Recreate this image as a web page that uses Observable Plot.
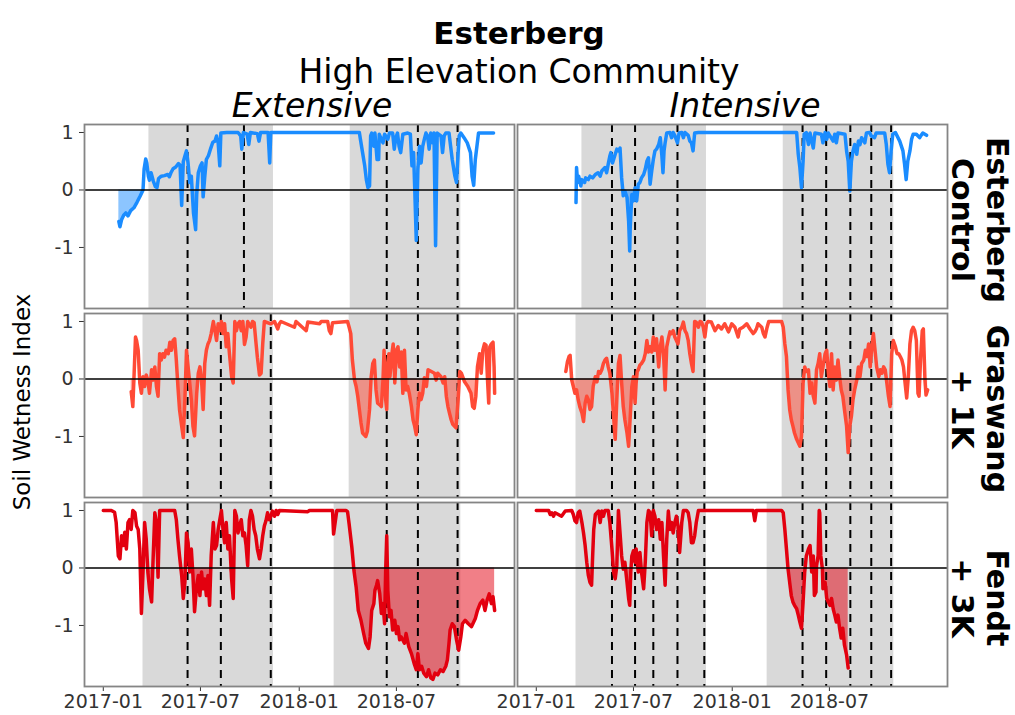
<!DOCTYPE html>
<html><head><meta charset="utf-8">
<script src="https://cdn.jsdelivr.net/npm/d3@7"></script>
<script src="https://cdn.jsdelivr.net/npm/@observablehq/plot@0.6"></script>
<style>
body{margin:0;background:#fff;}
#chart{position:relative;width:1015px;height:715px;overflow:hidden;}
#chart svg{font-family:"DejaVu Sans",sans-serif;}
</style></head><body><div id="chart"></div>
<script>
const titleText = "Esterberg";
const subtitleText = "High Elevation Community";
const yLabel = "Soil Wetness Index";
const sites = ["Esterberg", "Graswang", "Fendt"];
const siteLabels = [["Esterberg", "Control"], ["Graswang", "+ 1K"], ["Fendt", "+ 3K"]];
const managements = ["Extensive", "Intensive"];
const siteColors = ["#1A8CFF", "#FF4A36", "#E3000F"];
const xTicks = ["2017-01-01", "2017-07-01", "2018-01-01", "2018-07-01"];
const yTicks = [-1, 0, 1];

// growing-season shading (same for both management columns)
const seasonSites = ["Esterberg", "Esterberg", "Graswang", "Graswang", "Fendt", "Fendt"];
const seasonStarts = ["2017-03-27", "2018-04-06", "2017-03-16", "2018-04-04", "2017-03-16", "2018-03-07"];
const seasonEnds = ["2017-11-14", "2018-10-29", "2017-11-14", "2018-10-29", "2017-11-14", "2018-10-29"];

// management events (dashed lines)
const extEventsControl = ["2017-06-07", "2017-09-20", "2018-06-13", "2018-08-10", "2018-10-23"];
const extEventsWarmed = ["2017-06-07", "2017-08-08", "2017-11-09", "2018-06-13", "2018-08-10", "2018-10-23"];
const intEventsControl = ["2017-05-22", "2017-07-04", "2017-09-21", "2018-05-12", "2018-06-25", "2018-08-09", "2018-09-17", "2018-10-24"];
const intEventsWarmed = ["2017-05-22", "2017-07-04", "2017-08-07", "2017-09-21", "2017-11-10", "2018-05-12", "2018-06-25", "2018-08-09", "2018-09-17", "2018-10-24"];

// Esterberg – Extensive
const esterbergExtDates = ["2017-01-30","2017-02-01","2017-02-04","2017-02-08","2017-02-12","2017-02-16","2017-02-21","2017-02-27","2017-03-05","2017-03-11","2017-03-16","2017-03-18","2017-03-21","2017-03-23","2017-03-26","2017-03-28","2017-03-31","2017-04-04","2017-04-08","2017-04-11","2017-04-14","2017-04-19","2017-04-25","2017-05-01","2017-05-04","2017-05-07","2017-05-11","2017-05-16","2017-05-21","2017-05-24","2017-05-27","2017-05-30","2017-06-03","2017-06-05","2017-06-08","2017-06-11","2017-06-14","2017-06-18","2017-06-22","2017-06-24","2017-06-27","2017-07-01","2017-07-04","2017-07-06","2017-07-09","2017-07-12","2017-07-16","2017-07-20","2017-07-24","2017-07-28","2017-07-31","2017-08-03","2017-08-06","2017-08-08","2017-08-19","2017-09-09","2017-09-14","2017-09-16","2017-09-19","2017-09-26","2017-09-29","2017-10-02","2017-10-15","2017-10-18","2017-10-21","2017-11-04","2017-11-07","2017-11-09","2018-04-23","2018-04-25","2018-04-29","2018-05-03","2018-05-06","2018-05-09","2018-05-12","2018-05-14","2018-05-16","2018-05-20","2018-05-22","2018-05-26","2018-05-29","2018-05-30","2018-06-06","2018-06-09","2018-06-15","2018-06-18","2018-06-24","2018-06-27","2018-06-30","2018-07-03","2018-07-06","2018-07-09","2018-07-13","2018-07-22","2018-07-27","2018-07-30","2018-08-02","2018-08-04","2018-08-07","2018-08-10","2018-08-13","2018-08-16","2018-08-19","2018-08-22","2018-08-25","2018-08-28","2018-08-31","2018-09-03","2018-09-06","2018-09-09","2018-09-12","2018-09-15","2018-09-22","2018-09-25","2018-09-28","2018-10-01","2018-10-07","2018-10-13","2018-10-18","2018-10-21","2018-10-24","2018-10-26","2018-10-29","2018-11-04","2018-11-10","2018-11-16","2018-11-19","2018-11-22","2018-11-25","2018-11-28","2018-12-01","2018-12-29"];
const esterbergExtValues = [-0.55,-0.64,-0.52,-0.44,-0.40,-0.45,-0.36,-0.31,-0.21,-0.10,0.0,0.36,0.54,0.47,0.24,0.17,0.30,0.16,0.06,0.04,0.20,0.24,0.25,0.27,0.23,0.30,0.37,0.40,0.46,0.43,-0.27,0.49,0.62,0.68,0.46,0.13,0.24,-0.40,-0.69,-0.08,0.30,0.42,0.47,-0.12,0.23,0.53,0.60,0.72,0.83,0.85,0.94,0.82,0.42,0.99,1.0,1.0,0.94,0.71,1.0,0.97,0.79,1.0,0.98,0.85,1.0,1.0,0.47,1.0,1.0,0.88,0.65,0.42,0.18,0.04,0.07,0.94,0.99,0.76,0.99,0.53,0.53,0.97,0.82,0.97,0.88,0.99,0.99,0.71,0.91,0.99,0.76,0.65,0.97,0.99,0.97,0.42,0.65,0.07,-0.88,0.36,0.76,0.47,0.76,0.88,0.99,0.94,0.71,0.99,0.82,0.99,-0.97,0.99,0.94,0.65,0.94,0.99,0.99,0.53,0.24,0.13,0.65,0.94,0.99,0.91,0.82,0.65,0.24,0.08,0.53,0.76,0.99,0.99];

// Esterberg – Intensive
const esterbergIntDates = ["2017-03-16","2017-03-17","2017-03-19","2017-03-21","2017-03-25","2017-03-27","2017-04-01","2017-04-03","2017-04-08","2017-04-11","2017-04-16","2017-04-21","2017-04-26","2017-04-30","2017-05-03","2017-05-09","2017-05-12","2017-05-15","2017-05-18","2017-05-20","2017-05-23","2017-05-25","2017-05-28","2017-05-31","2017-06-03","2017-06-06","2017-06-09","2017-06-12","2017-06-15","2017-06-19","2017-06-22","2017-06-24","2017-06-25","2017-06-28","2017-07-01","2017-07-04","2017-07-07","2017-07-10","2017-07-13","2017-07-16","2017-07-20","2017-07-23","2017-07-26","2017-07-29","2017-08-01","2017-08-04","2017-08-07","2017-08-10","2017-08-13","2017-08-17","2017-08-20","2017-08-23","2017-08-25","2017-08-27","2017-08-29","2017-09-01","2017-09-07","2017-09-10","2017-09-13","2017-09-16","2017-09-21","2017-09-24","2017-09-29","2017-10-02","2017-10-05","2017-10-11","2017-10-14","2017-10-17","2017-10-20","2017-10-23","2017-10-30","2018-05-01","2018-05-04","2018-05-07","2018-05-10","2018-05-13","2018-05-15","2018-05-19","2018-05-23","2018-05-26","2018-06-01","2018-06-04","2018-06-16","2018-06-19","2018-06-23","2018-06-26","2018-06-29","2018-07-08","2018-07-11","2018-07-14","2018-07-17","2018-07-30","2018-08-02","2018-08-05","2018-08-08","2018-08-11","2018-08-14","2018-08-17","2018-08-21","2018-08-24","2018-08-27","2018-08-30","2018-09-05","2018-09-08","2018-09-14","2018-09-17","2018-09-23","2018-09-26","2018-10-12","2018-10-15","2018-10-18","2018-10-21","2018-10-24","2018-10-27","2018-11-01","2018-11-09","2018-11-15","2018-11-18","2018-11-21","2018-11-24","2018-11-28","2018-12-01","2018-12-04","2018-12-10","2018-12-16","2018-12-19","2018-12-22","2018-12-29"];
const esterbergIntValues = [-0.22,0.39,0.13,0.24,0.07,0.18,0.13,0.21,0.18,0.24,0.21,0.27,0.30,0.24,0.33,0.39,0.30,0.45,0.59,0.65,0.47,0.53,0.62,0.71,0.68,0.73,0.21,-0.10,-0.02,-0.13,-0.54,-1.06,-0.65,-0.08,-0.19,0.04,-0.19,0.10,0.13,0.21,0.27,0.36,0.50,0.56,0.10,0.33,0.53,0.68,0.71,0.79,0.91,0.59,0.30,0.68,0.82,0.99,1.0,0.91,1.0,0.95,0.82,0.99,1.0,0.91,1.0,0.95,0.85,0.82,0.68,0.99,1.0,1.0,0.62,0.39,0.04,0.50,0.97,1.0,0.79,0.99,0.73,0.99,0.97,0.82,1.0,0.88,0.99,0.85,0.97,0.82,0.99,0.97,0.68,0.50,-0.02,0.50,0.68,0.79,0.62,0.85,0.79,0.91,0.82,0.99,1.0,0.94,0.91,0.99,0.99,0.79,0.45,0.30,0.68,0.97,1.0,0.85,0.68,0.45,0.18,0.50,0.68,0.88,0.97,0.97,0.91,0.95,0.99,0.95];

// Graswang – Extensive
const graswangExtDates = ["2017-02-22","2017-02-25","2017-02-27","2017-03-02","2017-03-04","2017-03-07","2017-03-10","2017-03-13","2017-03-16","2017-03-19","2017-03-22","2017-03-25","2017-03-28","2017-04-01","2017-04-04","2017-04-07","2017-04-10","2017-04-13","2017-04-16","2017-04-19","2017-04-22","2017-04-25","2017-04-28","2017-05-02","2017-05-05","2017-05-08","2017-05-11","2017-05-14","2017-05-17","2017-05-20","2017-05-23","2017-05-27","2017-05-30","2017-06-02","2017-06-05","2017-06-08","2017-06-11","2017-06-14","2017-06-17","2017-06-20","2017-06-24","2017-06-27","2017-06-30","2017-07-03","2017-07-06","2017-07-09","2017-07-12","2017-07-15","2017-07-18","2017-07-21","2017-07-25","2017-07-28","2017-07-31","2017-08-03","2017-08-06","2017-08-09","2017-08-12","2017-08-15","2017-08-18","2017-08-21","2017-08-24","2017-08-28","2017-08-31","2017-09-03","2017-09-06","2017-09-09","2017-09-12","2017-09-15","2017-09-18","2017-09-21","2017-09-24","2017-09-27","2017-10-03","2017-10-06","2017-10-09","2017-10-12","2017-10-15","2017-10-19","2017-10-22","2017-10-25","2017-10-28","2017-11-09","2017-11-16","2017-11-22","2017-11-25","2017-11-28","2017-12-23","2017-12-26","2018-01-14","2018-01-17","2018-02-08","2018-02-11","2018-02-23","2018-02-26","2018-03-01","2018-03-04","2018-04-01","2018-04-04","2018-04-07","2018-04-10","2018-04-14","2018-04-17","2018-04-20","2018-04-23","2018-04-26","2018-04-29","2018-05-05","2018-05-08","2018-05-12","2018-05-15","2018-05-18","2018-05-21","2018-05-24","2018-05-27","2018-05-31","2018-06-03","2018-06-06","2018-06-08","2018-06-11","2018-06-13","2018-06-15","2018-06-17","2018-06-19","2018-06-22","2018-06-25","2018-06-28","2018-07-01","2018-07-04","2018-07-07","2018-07-10","2018-07-13","2018-07-16","2018-07-19","2018-07-22","2018-07-25","2018-07-29","2018-08-01","2018-08-04","2018-08-07","2018-08-10","2018-08-13","2018-08-16","2018-08-19","2018-08-22","2018-08-26","2018-08-29","2018-09-04","2018-09-10","2018-09-13","2018-09-16","2018-09-22","2018-09-26","2018-09-29","2018-10-02","2018-10-05","2018-10-08","2018-10-11","2018-10-14","2018-10-20","2018-10-24","2018-10-27","2018-10-30","2018-11-05","2018-11-11","2018-11-17","2018-11-20","2018-11-23","2018-11-26","2018-11-29","2018-12-03","2018-12-06","2018-12-09","2018-12-12","2018-12-15","2018-12-18","2018-12-20","2018-12-22","2018-12-25","2018-12-28","2018-12-30","2018-12-31"];
const graswangExtValues = [-0.22,-0.48,-0.02,0.73,0.67,0.50,-0.07,-0.25,0.04,-0.13,0.07,-0.02,-0.25,0.16,-0.02,0.21,-0.13,-0.30,0.44,0.33,0.44,0.38,0.50,0.44,0.64,0.50,0.67,0.70,0.33,-0.13,-0.53,-0.82,-1.02,-0.36,0.50,0.21,-0.07,-0.36,-0.82,-0.99,-0.25,0.10,0.21,-0.02,-0.53,0.27,0.50,0.61,0.67,0.79,1.0,0.84,0.67,0.96,0.84,1.0,0.79,0.96,0.56,0.79,0.44,0.04,-0.07,1.0,0.84,0.96,1.0,0.84,1.0,0.60,0.73,1.0,0.90,1.0,0.98,0.67,0.38,0.07,0.10,0.61,1.0,0.96,1.0,0.87,0.96,1.0,0.90,1.0,0.84,0.99,0.96,1.0,1.0,0.84,0.79,0.98,1.0,0.90,0.79,0.33,-0.02,-0.13,-0.30,-0.53,-0.76,-0.94,-1.0,-0.91,-0.53,0.04,0.27,0.33,-0.19,-0.42,-0.45,-0.48,-0.02,0.50,-0.36,-0.53,0.27,0.44,0.04,0.39,0.61,-0.07,0.50,0.56,0.21,0.47,-0.25,0.50,-0.19,-0.13,-0.25,-0.48,-0.71,-0.82,-0.97,-0.53,-0.25,-0.36,-0.25,0.02,-0.13,0.16,0.13,0.10,-0.02,0.10,0.04,-0.07,0.04,-0.30,-0.48,-0.60,-0.71,-0.79,-0.85,-0.36,0.13,0.10,-0.05,-0.13,-0.25,-0.48,-0.51,-0.30,0.21,0.44,0.10,0.50,0.61,0.59,-0.07,-0.42,0.56,0.61,0.64,0.21,-0.25];

// Graswang – Intensive
const graswangIntDates = ["2017-02-25","2017-02-28","2017-03-03","2017-03-05","2017-03-08","2017-03-11","2017-03-14","2017-03-17","2017-03-20","2017-03-23","2017-03-27","2017-03-30","2017-04-02","2017-04-05","2017-04-08","2017-04-11","2017-04-14","2017-04-17","2017-04-21","2017-04-24","2017-04-27","2017-04-30","2017-05-03","2017-05-06","2017-05-09","2017-05-12","2017-05-15","2017-05-18","2017-05-22","2017-05-25","2017-05-28","2017-05-31","2017-06-03","2017-06-06","2017-06-09","2017-06-12","2017-06-15","2017-06-19","2017-06-22","2017-06-25","2017-06-28","2017-07-01","2017-07-04","2017-07-06","2017-07-08","2017-07-10","2017-07-13","2017-07-16","2017-07-20","2017-07-23","2017-07-26","2017-07-29","2017-08-01","2017-08-04","2017-08-07","2017-08-10","2017-08-13","2017-08-17","2017-08-20","2017-08-23","2017-08-26","2017-08-29","2017-09-01","2017-09-04","2017-09-07","2017-09-10","2017-09-13","2017-09-16","2017-09-19","2017-09-22","2017-09-25","2017-09-29","2017-10-02","2017-10-05","2017-10-08","2017-10-11","2017-10-14","2017-10-17","2017-10-20","2017-10-23","2017-10-26","2017-10-30","2017-11-02","2017-11-05","2017-11-08","2017-11-11","2017-11-14","2017-11-17","2017-11-23","2017-11-30","2017-12-06","2017-12-12","2017-12-18","2017-12-25","2017-12-31","2018-01-06","2018-01-12","2018-01-15","2018-01-21","2018-01-28","2018-02-03","2018-02-09","2018-02-12","2018-02-15","2018-02-18","2018-02-25","2018-02-28","2018-03-03","2018-03-07","2018-03-10","2018-04-03","2018-04-06","2018-04-09","2018-04-12","2018-04-15","2018-04-18","2018-04-21","2018-04-24","2018-04-27","2018-05-01","2018-05-04","2018-05-07","2018-05-10","2018-05-13","2018-05-16","2018-05-19","2018-05-23","2018-05-26","2018-05-29","2018-06-01","2018-06-04","2018-06-07","2018-06-10","2018-06-13","2018-06-16","2018-06-19","2018-06-23","2018-06-26","2018-06-29","2018-07-02","2018-07-05","2018-07-08","2018-07-11","2018-07-14","2018-07-17","2018-07-20","2018-07-23","2018-07-26","2018-07-29","2018-08-02","2018-08-05","2018-08-08","2018-08-11","2018-08-14","2018-08-17","2018-08-21","2018-08-24","2018-08-27","2018-08-30","2018-09-03","2018-09-06","2018-09-09","2018-09-12","2018-09-15","2018-09-18","2018-09-21","2018-09-24","2018-09-27","2018-10-01","2018-10-04","2018-10-07","2018-10-10","2018-10-13","2018-10-16","2018-10-19","2018-10-22","2018-10-25","2018-10-28","2018-11-01","2018-11-04","2018-11-07","2018-11-10","2018-11-13","2018-11-16","2018-11-19","2018-11-22","2018-11-25","2018-11-28","2018-12-01","2018-12-04","2018-12-07","2018-12-10","2018-12-13","2018-12-15","2018-12-18","2018-12-21","2018-12-23","2018-12-26","2018-12-28","2018-12-31"];
const graswangIntValues = [0.13,0.30,0.39,0.41,-0.02,-0.13,-0.25,-0.19,-0.36,-0.48,-0.59,-0.74,-0.42,-0.30,-0.36,-0.53,-0.48,-0.13,0.04,-0.05,0.13,0.10,0.16,0.27,0.33,0.36,0.21,0.10,-0.25,-0.65,-1.05,-0.36,0.27,0.41,-0.07,-0.48,-0.71,-0.94,-1.17,-0.65,-0.13,0.04,-0.42,-0.07,0.13,0.16,0.24,0.27,0.33,0.44,0.67,0.47,0.56,0.47,0.73,0.50,0.70,0.21,0.56,0.73,0.44,-0.19,0.56,0.70,0.82,0.79,0.84,0.73,0.67,0.61,0.84,0.90,0.99,0.84,0.79,0.67,0.44,0.27,0.13,1.0,0.99,0.90,1.0,0.99,0.90,0.73,0.96,1.0,0.99,0.84,0.93,0.87,0.96,0.82,0.96,0.90,0.73,0.87,0.90,0.96,0.87,0.79,0.82,0.87,0.96,0.90,0.79,0.73,0.90,1.0,1.0,0.90,0.61,0.39,-0.19,-0.53,-0.71,-0.82,-0.94,-1.05,-1.11,-1.17,-1.0,-0.07,0.21,0.13,0.16,-0.25,-0.07,-0.30,-0.42,0.16,0.27,0.44,0.04,0.21,0.44,0.50,0.10,-0.13,0.44,-0.19,0.21,-0.02,0.33,0.04,-0.19,-0.30,-0.53,-0.82,-1.28,-0.82,-0.65,-0.36,-0.19,-0.02,0.21,0.04,0.27,0.33,0.50,0.39,0.61,0.21,0.56,0.79,0.50,0.21,0.04,0.16,0.10,0.21,0.16,-0.07,-0.30,-0.48,0.44,0.67,0.56,0.44,0.44,0.39,0.33,0.21,-0.07,-0.33,0.04,0.61,0.84,0.90,0.84,0.67,-0.25,-0.30,0.39,0.84,0.87,-0.02,-0.28,-0.19];

// Fendt – Extensive
const fendtExtDates = ["2017-01-01","2017-01-16","2017-01-22","2017-01-25","2017-01-29","2017-02-01","2017-02-04","2017-02-07","2017-02-10","2017-02-13","2017-02-16","2017-02-19","2017-02-22","2017-02-25","2017-03-01","2017-03-04","2017-03-07","2017-03-10","2017-03-13","2017-03-16","2017-03-19","2017-03-22","2017-03-25","2017-03-28","2017-04-01","2017-04-04","2017-04-07","2017-04-10","2017-04-13","2017-04-16","2017-05-14","2017-05-17","2017-05-20","2017-05-23","2017-05-27","2017-05-30","2017-06-02","2017-06-05","2017-06-08","2017-06-11","2017-06-14","2017-06-17","2017-06-20","2017-06-24","2017-06-27","2017-06-30","2017-07-03","2017-07-06","2017-07-09","2017-07-12","2017-07-15","2017-07-18","2017-07-21","2017-07-25","2017-07-28","2017-07-31","2017-08-03","2017-08-06","2017-08-09","2017-08-12","2017-08-15","2017-08-18","2017-08-21","2017-08-24","2017-08-28","2017-08-31","2017-09-03","2017-09-06","2017-09-09","2017-09-12","2017-09-15","2017-09-18","2017-09-21","2017-09-24","2017-09-27","2017-09-30","2017-10-03","2017-10-06","2017-10-09","2017-10-12","2017-10-15","2017-10-19","2017-10-22","2017-10-25","2017-10-28","2017-10-31","2017-11-03","2017-11-06","2017-11-09","2017-11-12","2017-11-16","2017-11-19","2017-11-22","2017-11-25","2018-01-17","2018-01-20","2018-03-04","2018-03-06","2018-03-08","2018-03-12","2018-03-29","2018-04-01","2018-04-04","2018-04-09","2018-04-13","2018-04-17","2018-04-21","2018-04-26","2018-05-01","2018-05-05","2018-05-10","2018-05-13","2018-05-16","2018-05-20","2018-05-22","2018-05-25","2018-05-27","2018-05-31","2018-06-03","2018-06-06","2018-06-09","2018-06-11","2018-06-13","2018-06-15","2018-06-18","2018-06-21","2018-06-24","2018-06-28","2018-07-01","2018-07-04","2018-07-07","2018-07-10","2018-07-16","2018-07-19","2018-07-24","2018-07-29","2018-08-03","2018-08-07","2018-08-10","2018-08-13","2018-08-17","2018-08-21","2018-08-26","2018-08-30","2018-09-03","2018-09-07","2018-09-11","2018-09-16","2018-09-21","2018-09-26","2018-10-01","2018-10-04","2018-10-07","2018-10-09","2018-10-13","2018-10-17","2018-10-21","2018-10-25","2018-10-29","2018-11-01","2018-11-06","2018-11-12","2018-11-18","2018-11-25","2018-11-29","2018-12-04","2018-12-09","2018-12-13","2018-12-17","2018-12-21","2018-12-25","2018-12-28","2018-12-31"];
const fendtExtValues = [1.0,1.0,0.97,0.79,0.21,0.16,0.56,0.39,0.62,0.33,0.79,0.84,0.67,1.0,0.96,0.73,0.67,0.33,-0.79,-0.07,0.79,0.50,-0.07,-0.36,-0.59,0.21,0.96,0.79,-0.16,1.0,1.0,0.84,0.50,0.21,-0.13,-0.53,-0.25,0.61,0.44,-0.07,0.33,-0.13,-0.76,-0.30,-0.13,-0.48,-0.07,-0.36,-0.19,-0.48,-0.13,-0.65,0.21,0.79,0.33,0.39,0.67,0.84,1.0,0.67,0.44,0.79,0.33,0.56,-0.19,-0.53,1.0,0.90,0.61,0.73,0.84,0.56,0.61,0.39,0.04,0.84,1.0,0.90,0.67,0.56,0.33,0.16,0.33,0.56,0.73,0.82,0.96,0.84,0.90,0.99,0.90,1.0,0.93,1.0,0.98,1.0,1.0,0.59,0.73,1.0,1.0,0.98,0.76,0.36,-0.05,-0.33,-0.74,-0.91,-1.14,-1.31,-1.40,-1.20,-0.74,-0.62,-0.39,-0.30,-0.22,-0.45,-0.79,-0.62,-0.97,-0.05,0.56,-0.39,-0.85,-0.74,-1.08,-0.91,-1.14,-1.02,-1.25,-1.20,-1.31,-1.14,-1.37,-1.49,-1.66,-1.77,-1.49,-1.77,-1.71,-1.83,-1.89,-1.77,-1.91,-1.94,-1.83,-1.86,-1.77,-1.80,-1.71,-1.60,-1.31,-1.08,-0.97,-1.02,-1.25,-1.43,-1.20,-0.97,-0.91,-0.97,-1.02,-0.88,-0.74,-0.62,-0.56,-0.74,-0.56,-0.45,-0.62,-0.50,-0.74];

// Fendt – Intensive
const fendtIntDates = ["2017-01-01","2017-01-24","2017-01-27","2017-01-30","2017-02-02","2017-02-05","2017-02-11","2017-02-17","2017-02-24","2017-03-08","2017-03-11","2017-03-14","2017-03-17","2017-03-20","2017-03-23","2017-03-27","2017-03-30","2017-04-02","2017-04-05","2017-04-08","2017-04-11","2017-04-14","2017-04-16","2017-04-18","2017-04-21","2017-04-27","2017-04-30","2017-05-03","2017-05-06","2017-05-09","2017-05-15","2017-05-18","2017-05-22","2017-05-25","2017-05-28","2017-05-31","2017-06-03","2017-06-06","2017-06-09","2017-06-12","2017-06-15","2017-06-19","2017-06-22","2017-06-24","2017-06-26","2017-06-28","2017-07-01","2017-07-04","2017-07-06","2017-07-08","2017-07-10","2017-07-13","2017-07-16","2017-07-20","2017-07-23","2017-07-26","2017-07-29","2017-08-01","2017-08-04","2017-08-07","2017-08-10","2017-08-13","2017-08-17","2017-08-20","2017-08-23","2017-08-26","2017-08-29","2017-09-01","2017-09-04","2017-09-07","2017-09-10","2017-09-13","2017-09-16","2017-09-19","2017-09-22","2017-09-25","2017-09-29","2017-10-02","2017-10-08","2017-10-11","2017-10-14","2017-10-17","2017-10-20","2017-10-23","2017-10-26","2017-10-30","2018-02-09","2018-02-12","2018-02-15","2018-04-03","2018-04-06","2018-04-09","2018-04-12","2018-04-15","2018-04-18","2018-04-21","2018-04-24","2018-04-27","2018-05-01","2018-05-04","2018-05-07","2018-05-10","2018-05-13","2018-05-16","2018-05-19","2018-05-23","2018-05-26","2018-05-29","2018-06-01","2018-06-03","2018-06-06","2018-06-07","2018-06-10","2018-06-12","2018-06-13","2018-06-15","2018-06-18","2018-06-19","2018-06-23","2018-06-26","2018-06-29","2018-07-02","2018-07-05","2018-07-08","2018-07-11","2018-07-14","2018-07-17","2018-07-20","2018-07-23","2018-07-26","2018-07-29","2018-08-02","2018-08-05"];
const fendtIntValues = [1.0,1.0,0.93,0.96,0.90,0.96,0.93,0.90,0.99,1.0,0.93,0.82,0.79,0.96,0.99,0.79,0.61,0.39,0.10,-0.13,-0.25,-0.30,0.21,0.67,0.93,0.99,0.79,0.99,0.90,1.0,1.0,0.79,0.33,-0.07,-0.19,0.04,1.0,0.61,0.21,-0.02,0.10,-0.25,-0.53,-0.65,-0.07,0.21,0.30,0.10,0.33,0.10,-0.07,0.27,-0.07,-0.36,0.10,0.79,1.0,0.96,0.56,1.0,0.90,0.67,0.84,0.50,0.79,0.21,-0.30,0.50,0.99,0.67,0.79,0.61,0.79,0.90,0.73,0.27,0.79,1.0,1.0,0.96,0.79,0.44,0.44,0.56,0.79,1.0,1.0,0.82,1.0,1.0,0.96,0.67,0.33,-0.02,-0.25,-0.48,-0.59,-0.65,-0.71,-0.82,-0.94,-1.05,-0.59,-0.07,0.21,0.33,0.39,-0.07,0.21,-0.48,-0.42,0.04,0.21,1.0,0.96,0.21,-0.02,-0.36,-0.25,-0.53,-0.59,-0.65,-0.53,-0.71,-0.82,-0.94,-0.82,-1.05,-1.22,-1.05,-1.34,-1.51,-1.74];

const seriesList = [
  {site: "Esterberg", mgmt: "Extensive", dates: esterbergExtDates, values: esterbergExtValues},
  {site: "Esterberg", mgmt: "Intensive", dates: esterbergIntDates, values: esterbergIntValues},
  {site: "Graswang", mgmt: "Extensive", dates: graswangExtDates, values: graswangExtValues},
  {site: "Graswang", mgmt: "Intensive", dates: graswangIntDates, values: graswangIntValues},
  {site: "Fendt", mgmt: "Extensive", dates: fendtExtDates, values: fendtExtValues},
  {site: "Fendt", mgmt: "Intensive", dates: fendtIntDates, values: fendtIntValues}
];
const rows = seriesList.flatMap(s => s.dates.map((d, i) => ({site: s.site, mgmt: s.mgmt, date: new Date(d), v: s.values[i]})));

const seasonRows = managements.flatMap(m => seasonSites.map((s, i) => ({site: s, mgmt: m, start: new Date(seasonStarts[i]), end: new Date(seasonEnds[i])})));
const eventSets = [
  ["Extensive", ["Esterberg"], extEventsControl],
  ["Extensive", ["Graswang", "Fendt"], extEventsWarmed],
  ["Intensive", ["Esterberg"], intEventsControl],
  ["Intensive", ["Graswang", "Fendt"], intEventsWarmed]
];
const eventRows = eventSets.flatMap(([m, ss, ev]) => ss.flatMap(s => ev.map(d => ({site: s, mgmt: m, date: new Date(d)}))));

const plot = Plot.plot({
  width: 1015, height: 715,
  marginTop: 123, marginBottom: 27, marginLeft: 83, marginRight: 68,
  style: {fontFamily: "DejaVu Sans, sans-serif", fontSize: "19px", color: "#333333", background: "white", overflow: "visible"},
  fx: {domain: managements, paddingInner: 0.008, paddingOuter: 0, axis: null, label: null},
  fy: {domain: sites, paddingInner: 0.026, paddingOuter: 0, axis: null, label: null},
  x: {type: "utc", domain: [new Date("2016-11-27"), new Date("2019-02-06")], ticks: xTicks.map(d => new Date(d)), tickFormat: d3.utcFormat("%Y-%m"), label: null, tickSize: 5, tickPadding: 3},
  y: {domain: [-2.062, 1.139], ticks: yTicks, tickFormat: d => String(d), label: null, tickSize: 5, tickPadding: 6},
  color: {domain: sites, range: siteColors},
  marks: [
    Plot.rect(seasonRows, {x1: "start", x2: "end", fx: "mgmt", fy: "site", fill: "#D9D9D9"}),
    Plot.areaY(rows, {x: "date", y1: 0, y2: d => Math.min(d.v, 0), fx: "mgmt", fy: "site", fill: "site", fillOpacity: 0.5}),
    Plot.ruleX(eventRows, {x: "date", fx: "mgmt", fy: "site", stroke: "black", strokeWidth: 2, strokeDasharray: "8,6"}),
    Plot.lineY(rows, {x: "date", y: "v", fx: "mgmt", fy: "site", stroke: "site", strokeWidth: 3.5, strokeLinejoin: "round"}),
    Plot.ruleY([0], {stroke: "black", strokeWidth: 1.5}),
    Plot.frame({stroke: "#858585", strokeWidth: 1.8})
  ]
});
document.getElementById("chart").appendChild(plot);

const svg = d3.select(plot);
const fyScale = plot.scale("fy");
const fxScale = plot.scale("fx");
const add = (x, y, txt, opts = {}) => {
  const t = svg.append("text").attr("x", x).attr("y", y).text(txt)
    .attr("text-anchor", "middle").attr("fill", "black")
    .attr("font-family", "DejaVu Sans, sans-serif")
    .attr("font-size", opts.size || 30)
    .attr("font-weight", opts.weight || "normal")
    .attr("font-style", opts.style || "normal");
  if (opts.rotate) t.attr("transform", `rotate(${opts.rotate},${x},${y})`);
  return t;
};
add(519, 44, titleText, {size: 31, weight: "bold"});
add(519, 83, subtitleText, {size: 33});
managements.forEach((m, i) => {
  const cx = fxScale.apply(m) + fxScale.bandwidth / 2 + 13;
  add(cx, 117, m, {size: 33, style: "italic"});
});
sites.forEach((s, i) => {
  const cy = fyScale.apply(s) + fyScale.bandwidth / 2 + 4;
  add(987, cy, siteLabels[i][0], {size: 30, weight: "bold", rotate: 90});
  add(952, cy, siteLabels[i][1], {size: 30, weight: "bold", rotate: 90});
});
add(30, 402, yLabel, {size: 23, rotate: -90});
</script>
</body></html>
